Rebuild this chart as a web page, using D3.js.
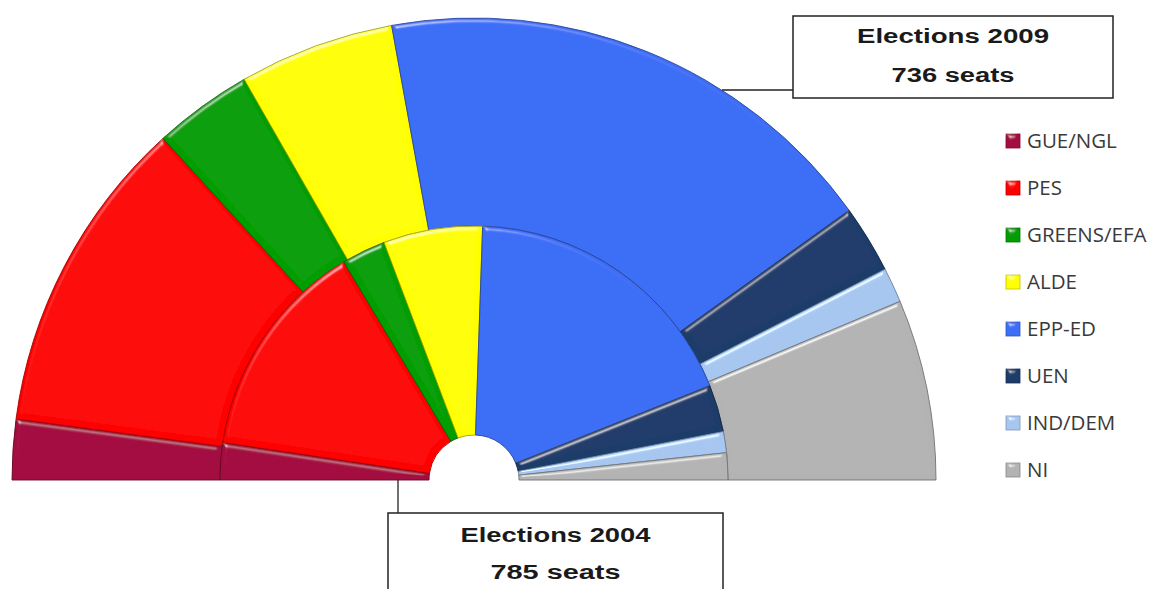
<!DOCTYPE html>
<html>
<head>
<meta charset="utf-8">
<script src="https://cdn.jsdelivr.net/npm/d3@7"></script>
<style>
  body { margin: 0; background: #fff; }
  svg { display: block; }
  .legend-label { font-family: "Open Sans", sans-serif; font-size: 20.5px; fill: #3a3a3a; }
  .callout text { font-family: "Liberation Sans", Arial, sans-serif; font-weight: bold; font-size: 20px; fill: #1a1a1a; }
</style>
</head>
<body>
<svg id="chart"></svg>
<script>
// parliament groups, left to right
const parties = ['GUE/NGL', 'PES', 'GREENS/EFA', 'ALDE', 'EPP-ED', 'UEN', 'IND/DEM', 'NI'];
const partyColors = ['#a30b40', '#fe0000', '#009e00', '#ffff00', '#3d6ef6', '#1e3d6b', '#a7c7f1', '#b3b3b3'];

// seats
const seats2004 = [37, 221, 44, 99, 289, 47, 21, 27];   // inner ring, 785 seats
const seats2009 = [31, 164, 51, 80, 264, 35, 18, 93];   // outer ring, 736 seats

const calloutTitles = ['Elections 2009', 'Elections 2004'];
const calloutSeats = ['736 seats', '785 seats'];

const width = 1157, height = 589;
const cx = 474, cy = 480;
const rHole = 45, rMid = 254, rOuter = 462;

const svg = d3.select('#chart')
    .attr('width', width)
    .attr('height', height);

// bevel look, like the office 3d style
const defs = svg.append('defs');
const bevel = defs.append('filter')
    .attr('id', 'bevel')
    .attr('x', '-5%').attr('y', '-5%')
    .attr('width', '110%').attr('height', '110%');
bevel.append('feGaussianBlur')
    .attr('in', 'SourceAlpha')
    .attr('stdDeviation', 2.5)
    .attr('result', 'blur');
bevel.append('feSpecularLighting')
    .attr('in', 'blur')
    .attr('surfaceScale', 3)
    .attr('specularConstant', 0.8)
    .attr('specularExponent', 60)
    .attr('lighting-color', '#ffffff')
    .attr('result', 'spec')
  .append('feDistantLight')
    .attr('azimuth', 250)
    .attr('elevation', 40);
bevel.append('feComposite')
    .attr('in', 'spec')
    .attr('in2', 'SourceAlpha')
    .attr('operator', 'in')
    .attr('result', 'specOut');
bevel.append('feComposite')
    .attr('in', 'SourceGraphic')
    .attr('in2', 'specOut')
    .attr('operator', 'arithmetic')
    .attr('k1', 0).attr('k2', 1).attr('k3', 0.6).attr('k4', 0);

const color = d3.scaleOrdinal()
    .domain(parties)
    .range(partyColors);

const pie = d3.pie()
    .sort(null)
    .startAngle(-Math.PI / 2)
    .endAngle(Math.PI / 2);

const chart = svg.append('g')
    .attr('transform', `translate(${cx},${cy})`);

function drawRing(values, r0, r1, cls) {
  const arc = d3.arc().innerRadius(r0).outerRadius(r1);
  const rows = parties.map((p, i) => ({party: p, seats: values[i]}));
  chart.append('g')
      .attr('class', cls)
    .selectAll('path')
    .data(pie.value(d => d.seats)(rows))
    .join('path')
      .attr('d', arc)
      .attr('fill', d => color(d.data.party))
      .attr('stroke', d => d3.color(color(d.data.party)).darker(1.3))
      .attr('stroke-width', 0.9)
      .attr('filter', 'url(#bevel)');
}

drawRing(seats2009, rMid, rOuter, 'ring-2009');
drawRing(seats2004, rHole, rMid, 'ring-2004');

// legend
const legend = svg.append('g')
    .attr('transform', 'translate(1006,141)');
const items = legend.selectAll('g')
    .data(parties)
    .join('g')
      .attr('transform', (d, i) => `translate(0,${i * 47})`);
items.append('rect')
    .attr('x', 0).attr('y', -7)
    .attr('width', 14).attr('height', 14)
    .attr('fill', d => color(d))
    .attr('stroke', d => d3.color(color(d)).darker(0.8))
    .attr('stroke-width', 0.8)
    .attr('filter', 'url(#bevel)');
items.append('text')
    .attr('class', 'legend-label')
    .attr('x', 21)
    .attr('dy', '0.35em')
    .text(d => d);

// callout boxes
function callout(box, i, widths, baselines, leader) {
  const g = svg.append('g').attr('class', 'callout');
  g.append('path')
      .attr('d', leader)
      .attr('fill', 'none')
      .attr('stroke', '#222')
      .attr('stroke-width', 1.3);
  g.append('rect')
      .attr('x', box.x).attr('y', box.y)
      .attr('width', box.w).attr('height', box.h)
      .attr('fill', '#fff')
      .attr('stroke', '#222')
      .attr('stroke-width', 1.5);
  const mid = box.x + box.w / 2;
  g.append('text')
      .attr('x', mid).attr('y', baselines[0])
      .attr('text-anchor', 'middle')
      .attr('textLength', widths[0])
      .attr('lengthAdjust', 'spacingAndGlyphs')
      .text(calloutTitles[i]);
  g.append('text')
      .attr('x', mid).attr('y', baselines[1])
      .attr('text-anchor', 'middle')
      .attr('textLength', widths[1])
      .attr('lengthAdjust', 'spacingAndGlyphs')
      .text(calloutSeats[i]);
}

callout({x: 793, y: 16, w: 320, h: 82}, 0, [192, 123], [43, 82], 'M722,90H793');
callout({x: 388, y: 513, w: 335, h: 90}, 1, [190, 130], [542, 579], 'M398,480V513');
</script>
</body>
</html>
